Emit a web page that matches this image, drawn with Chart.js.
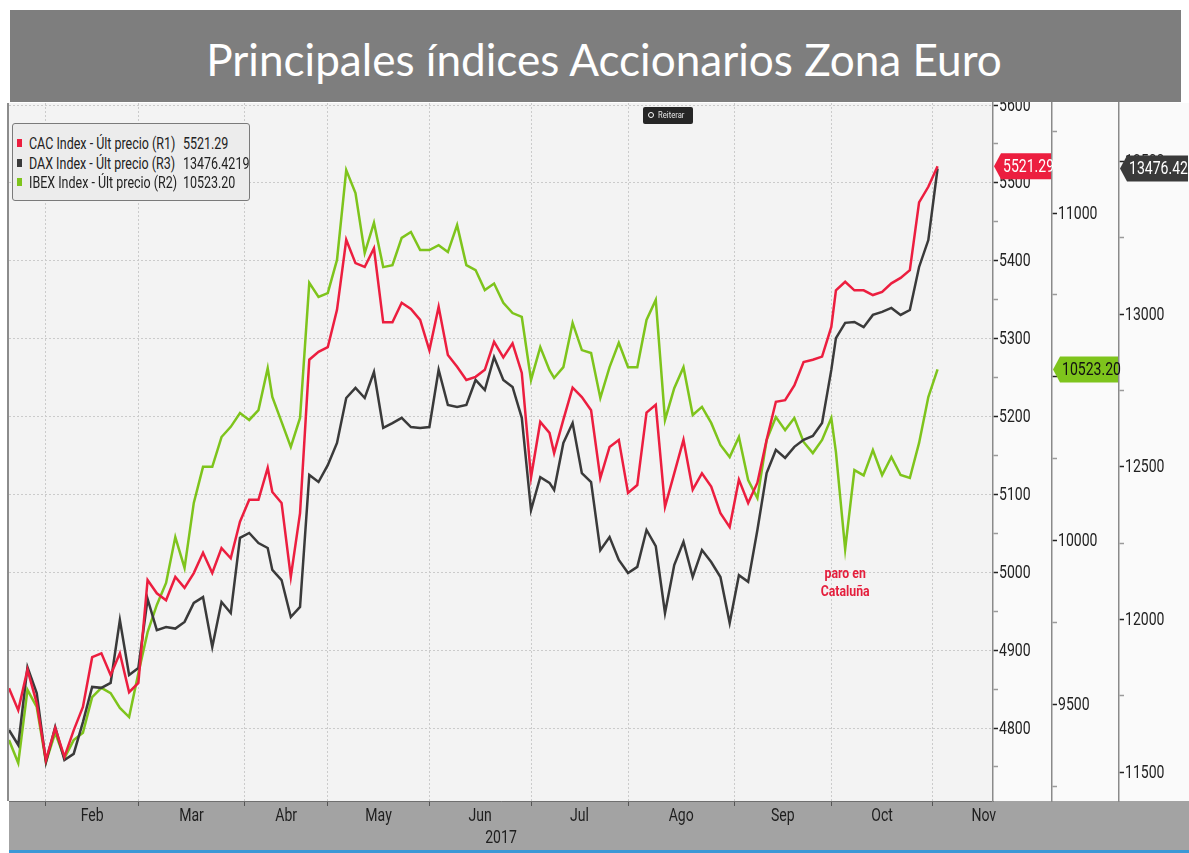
<!DOCTYPE html>
<html lang="es">
<head>
<meta charset="utf-8">
<title>Principales índices Accionarios Zona Euro</title>
<script src="https://cdn.jsdelivr.net/npm/chart.js@4.4.1/dist/chart.umd.min.js"></script>
<style>
  html, body { margin: 0; padding: 0; background: #ffffff; }
  #lienzo { position: relative; width: 1189px; height: 853px; overflow: hidden; }
  #grafico { position: absolute; left: 0; top: 0; }
  #titulo {
    position: absolute; left: 10px; top: 10px; width: 1171px; height: 92px;
    background: #7e7e7e; color: #ffffff; font-family: Lato, "Open Sans", sans-serif;
    text-align: center; line-height: 98px; white-space: nowrap; padding-left: 17px; box-sizing: border-box;
  }
  #leyenda {
    position: absolute; left: 12px; top: 123px; width: 238px; height: 78px; box-sizing: border-box;
    background: #ececec; border: 1px solid #7a7a7a; border-radius: 3px; padding-top: 10px;
    font: 16px Roboto, sans-serif; color: #222222;
  }
  .fila { position: relative; height: 19.5px; line-height: 19.5px; white-space: nowrap; }
  .fila i { position: absolute; left: 4px; top: 5px; width: 5px; height: 8px; }
  .fila span, .fila b { position: absolute; font-weight: normal; transform: scaleX(0.78); transform-origin: 0 50%; }
  .fila span { left: 16px; }
  .fila b { left: 170px; }
  #reiterar {
    position: absolute; left: 643px; top: 107px; width: 50px; height: 17px; background: #262626;
    border-radius: 2px; color: #e6e6e6; font: 9px Roboto, sans-serif;
    line-height: 17px; box-sizing: border-box; padding-left: 15px;
  }
  #reiterar span { display: inline-block; transform: scaleX(0.85); transform-origin: 0 50%; }
  #reiterar:before {
    content: ""; position: absolute; left: 5px; top: 5px; width: 4px; height: 4px;
    border: 1.5px solid #ffffff; border-radius: 50%;
  }
</style>
</head>
<body>
<div id="lienzo">
  <canvas id="grafico" width="1189" height="853"></canvas>
  <div id="titulo"></div>
  <div id="leyenda"></div>
  <div id="reiterar"><span>Reiterar</span></div>
</div>
<script>
// textos
const textoTitulo = 'Principales índices Accionarios Zona Euro';
const textoAnio = '2017';
const textoNota = ['paro en', 'Cataluña'];
const fechaNota = '2017-10-05';

// sesiones: días hábiles sin los festivos europeos
const festivos = ['2017-04-14', '2017-04-17', '2017-05-01'];
const meses = ['Feb', 'Mar', 'Abr', 'May', 'Jun', 'Jul', 'Ago', 'Sep', 'Oct', 'Nov'];

// marcas rotuladas de cada eje
const marcasCac = [4800, 4900, 5000, 5100, 5200, 5300, 5400, 5500, 5600];
const marcasIbex = [9500, 10000, 10500, 11000];
const marcasDax = [11500, 12000, 12500, 13000, 13500];

// fechas de las muestras leídas
const fechas = [
  '2017-01-20', '2017-01-24', '2017-01-26', '2017-01-30', '2017-02-01', '2017-02-03', '2017-02-07', '2017-02-09', '2017-02-13', '2017-02-15',
  '2017-02-17', '2017-02-21', '2017-02-23', '2017-02-27', '2017-03-01', '2017-03-03', '2017-03-07', '2017-03-09', '2017-03-13', '2017-03-15',
  '2017-03-17', '2017-03-21', '2017-03-23', '2017-03-27', '2017-03-29', '2017-03-31', '2017-04-04', '2017-04-06', '2017-04-10', '2017-04-11',
  '2017-04-13', '2017-04-19', '2017-04-21', '2017-04-25', '2017-04-27', '2017-05-02', '2017-05-04', '2017-05-08', '2017-05-10', '2017-05-12',
  '2017-05-16', '2017-05-18', '2017-05-22', '2017-05-24', '2017-05-26', '2017-05-30', '2017-06-01', '2017-06-05', '2017-06-07', '2017-06-09',
  '2017-06-13', '2017-06-15', '2017-06-19', '2017-06-21', '2017-06-23', '2017-06-27', '2017-06-29', '2017-07-03', '2017-07-05', '2017-07-07',
  '2017-07-10', '2017-07-12', '2017-07-14', '2017-07-18', '2017-07-20', '2017-07-24', '2017-07-26', '2017-07-28', '2017-08-01', '2017-08-03',
  '2017-08-07', '2017-08-09', '2017-08-11', '2017-08-15', '2017-08-17', '2017-08-21', '2017-08-23', '2017-08-25', '2017-08-29', '2017-08-31',
  '2017-09-04', '2017-09-06', '2017-09-08', '2017-09-12', '2017-09-14', '2017-09-18', '2017-09-20', '2017-09-22', '2017-09-26', '2017-09-28',
  '2017-10-02', '2017-10-03', '2017-10-05', '2017-10-09', '2017-10-11', '2017-10-13', '2017-10-17', '2017-10-19', '2017-10-23', '2017-10-25',
  '2017-10-27', '2017-10-31', '2017-11-02'
];

const cac = [
  4851, 4823, 4875, 4832, 4759, 4800, 4763, 4797, 4827, 4891,
  4896, 4868, 4896, 4846, 4858, 4990, 4973, 4964, 4994, 4980,
  4999, 5025, 4999, 5031, 5018, 5065, 5093, 5093, 5134, 5103,
  5089, 4994, 5076, 5273, 5283, 5289, 5337, 5427, 5397, 5392,
  5416, 5321, 5321, 5346, 5338, 5324, 5285, 5341, 5279, 5264,
  5247, 5251, 5260, 5296, 5276, 5294, 5256, 5122, 5193, 5179,
  5153, 5196, 5237, 5225, 5208, 5121, 5161, 5170, 5102, 5112,
  5205, 5215, 5084, 5127, 5170, 5106, 5127, 5110, 5076, 5058,
  5119, 5089, 5115, 5170, 5219, 5221, 5240, 5270, 5273, 5277,
  5315, 5362, 5373, 5362, 5362, 5356, 5360, 5371, 5378, 5388,
  5475, 5495, 5521.29
];

const dax = [
  11638, 11589, 11844, 11759, 11533, 11648, 11540, 11560, 11664, 11779,
  11776, 11792, 11998, 11818, 11841, 12067, 11965, 11975, 11970, 11992,
  12054, 12073, 11910, 12057, 12021, 12267, 12283, 12250, 12234, 12162,
  12129, 12008, 12041, 12473, 12450, 12505, 12578, 12725, 12758, 12725,
  12810, 12627, 12643, 12660, 12630, 12627, 12630, 12817, 12702, 12696,
  12702, 12784, 12751, 12859, 12784, 12761, 12660, 12358, 12466, 12447,
  12424, 12578, 12643, 12479, 12450, 12227, 12270, 12195, 12152, 12172,
  12293, 12240, 12021, 12178, 12254, 12139, 12227, 12188, 12139, 11988,
  12145, 12123, 12293, 12479, 12555, 12529, 12565, 12588, 12601, 12643,
  12817, 12921, 12971, 12974, 12957, 12997, 13007, 13020, 12997, 13013,
  13154, 13242, 13476.4219
];

const ibex = [
  9393, 9323, 9546, 9494, 9326, 9415, 9338, 9393, 9415, 9524,
  9552, 9536, 9491, 9463, 9597, 9722, 9805, 9872, 10012, 9918,
  10116, 10226, 10226, 10317, 10348, 10390, 10369, 10399, 10527, 10439,
  10363, 10287, 10375, 10787, 10744, 10756, 10857, 11131, 11061, 10878,
  10970, 10835, 10841, 10924, 10942, 10887, 10887, 10902, 10881, 10963,
  10841, 10826, 10765, 10785, 10726, 10695, 10683, 10491, 10591, 10521,
  10497, 10530, 10665, 10582, 10573, 10436, 10530, 10604, 10530, 10530,
  10674, 10735, 10369, 10466, 10530, 10384, 10409, 10360, 10293, 10256,
  10317, 10186, 10131, 10308, 10378, 10338, 10375, 10302, 10268, 10308,
  10375, 10271, 9975, 10216, 10200, 10277, 10201, 10256, 10201, 10192,
  10299, 10439, 10523.20
];

const FAMILIA = 'Roboto, sans-serif';

const series = [
  { nombre: 'CAC Index - Últ precio (R1)', datos: cac, color: '#ec1e3f', eje: 'yCac', dec: 2, tinta: '#ffffff' },
  { nombre: 'DAX Index - Últ precio (R3)', datos: dax, color: '#3a3a3a', eje: 'yDax', dec: 4, tinta: '#ffffff' },
  { nombre: 'IBEX Index - Últ precio (R2)', datos: ibex, color: '#7ec41c', eje: 'yIbex', dec: 2, tinta: '#111111' }
];
const ejes = [
  { id: 'yCac', marcas: marcasCac },
  { id: 'yIbex', marcas: marcasIbex },
  { id: 'yDax', marcas: marcasDax }
];

function calendario(desde, hasta) {
  const dias = [];
  const d = new Date(desde + 'T12:00:00Z');
  const fin = new Date(hasta + 'T12:00:00Z');
  while (d <= fin) {
    const s = d.toISOString().slice(0, 10);
    const wd = d.getUTCDay();
    if (wd !== 0 && wd !== 6 && festivos.indexOf(s) < 0) dias.push(s);
    d.setUTCDate(d.getUTCDate() + 1);
  }
  return dias;
}
const sesiones = calendario('2017-01-20', '2017-12-29');
const X_MAX = 213;

// inicio de cada mes (en sesiones) y centro para la etiqueta
const inicios = [];
for (let m = 2; m <= 12; m++) {
  const mm = (m < 10 ? '0' : '') + m;
  inicios.push(sesiones.findIndex(s => s.slice(5, 7) === mm));
}
const marcasX = [];
meses.forEach((nombre, i) => {
  marcasX.push({ v: inicios[i], limite: true, texto: '' });
  marcasX.push({ v: (inicios[i] + inicios[i + 1]) / 2, limite: false, texto: nombre });
});
const marcasVisibles = marcasX.filter(m => m.v <= X_MAX);
function marca(v) { return marcasVisibles.find(m => Math.abs(m.v - v) < 1e-6); }
function esLimite(c) { const m = c.tick && marca(c.tick.value); return !!(m && m.limite); }

// título ajustado al ancho
(function () {
  const t = document.getElementById('titulo');
  const c = document.createElement('canvas').getContext('2d');
  c.font = '100px Lato';
  const w = c.measureText(textoTitulo).width;
  t.style.fontSize = (100 * 798 / w).toFixed(1) + 'px';
  t.textContent = textoTitulo;
})();

// leyenda
(function () {
  const ley = document.getElementById('leyenda');
  series.forEach(s => {
    const f = document.createElement('div');
    f.className = 'fila';
    f.innerHTML = '<i style="background:' + s.color + '"></i><span>' + s.nombre + '</span><b>' +
      s.datos[s.datos.length - 1].toFixed(s.dec) + '</b>';
    ley.appendChild(f);
  });
})();

// texto estrecho: la fuente se comprime en horizontal
function estrecho(ctx, texto, x, y, tam, escala, peso, alinear, color) {
  ctx.save();
  ctx.font = (peso ? peso + ' ' : '') + tam + 'px ' + FAMILIA;
  ctx.fillStyle = color;
  ctx.textBaseline = 'middle';
  ctx.textAlign = alinear || 'left';
  ctx.translate(x, y);
  ctx.scale(escala, 1);
  ctx.fillText(texto, 0, 0);
  ctx.restore();
}

const fondos = {
  id: 'fondos',
  beforeDraw(chart) {
    const { ctx, chartArea: a, width } = chart;
    ctx.save();
    ctx.fillStyle = '#fafafa';
    ctx.fillRect(a.right, a.top, width - a.right, a.bottom - a.top);
    ctx.fillStyle = '#f3f3f3';
    ctx.fillRect(a.left, a.top, a.right - a.left, a.bottom - a.top);
    ctx.fillStyle = '#a3a3a3';
    ctx.fillRect(a.left, a.bottom, width - a.left, 49);
    ctx.fillStyle = '#3c98d6';
    ctx.fillRect(a.left, a.bottom + 49, width - a.left, 3);
    ctx.fillStyle = '#8c8c8c';
    ctx.fillRect(a.left - 2, a.top, 2, a.bottom - a.top);
    ctx.restore();
  }
};

const rotulos = {
  id: 'rotulos',
  afterDatasetsDraw(chart) {
    const ctx = chart.ctx;
    // nota sobre la caída del IBEX
    const i = fechas.indexOf(fechaNota);
    const xn = chart.scales.x.getPixelForValue(sesiones.indexOf(fechaNota));
    const yn = chart.scales.yIbex.getPixelForValue(ibex[i]);
    textoNota.forEach((t, j) => estrecho(ctx, t, xn, yn + 25 + j * 18, 15, 0.82, 'bold', 'center', '#e41e3c'));
  },
  afterDraw(chart) {
    const ctx = chart.ctx;
    // rótulos de los ejes verticales
    ejes.forEach(e => {
      const sc = chart.scales[e.id];
      sc.ticks.forEach(t => {
        if (e.marcas.indexOf(t.value) < 0) return;
        estrecho(ctx, String(t.value), sc.left + 6, sc.getPixelForValue(t.value) + 1, 18, 0.78, '', 'left', '#222222');
      });
    });
    // meses y año
    const sx = chart.scales.x;
    sx.ticks.forEach(t => {
      const m = marca(t.value);
      if (m && !m.limite) estrecho(ctx, m.texto, sx.getPixelForValue(t.value), sx.top + 15, 18, 0.78, '', 'center', '#1e1e1e');
    });
    estrecho(ctx, textoAnio, (sx.left + sx.right) / 2, sx.top + 37, 18, 0.78, '', 'center', '#1e1e1e');
    // banderas con el último valor
    series.forEach(s => {
      const esc = chart.scales[s.eje];
      const v = s.datos[s.datos.length - 1];
      const y = esc.getPixelForValue(v);
      const x0 = esc.left + 1, x1 = esc.right - 1, h = 26;
      ctx.save();
      ctx.beginPath();
      ctx.moveTo(x0, y);
      ctx.lineTo(x0 + 7, y - h / 2);
      ctx.lineTo(x1, y - h / 2);
      ctx.lineTo(x1, y + h / 2);
      ctx.lineTo(x0 + 7, y + h / 2);
      ctx.closePath();
      ctx.fillStyle = s.color;
      ctx.fill();
      ctx.restore();
      estrecho(ctx, v.toFixed(s.dec), x0 + 9, y + 1, 18, 0.78, '', 'left', s.tinta);
    });
  }
};

function ejeY(peso, ancho, min, max, marcas, sobreArea) {
  const mitad = (marcas[1] - marcas[0]) / 2;
  return {
    type: 'linear', position: 'right', weight: peso, min: min, max: max,
    afterFit: sc => { sc.width = ancho; },
    afterBuildTicks: sc => {
      const lista = [];
      for (let v = marcas[0] - mitad; v <= marcas[marcas.length - 1] + mitad; v += mitad) {
        if (v >= sc.min && v <= sc.max) lista.push({ value: v });
      }
      sc.ticks = lista;
    },
    grid: {
      drawOnChartArea: sobreArea,
      color: c => (c.tick && marcas.indexOf(c.tick.value) >= 0) ? '#cbcbcb' : 'rgba(0,0,0,0)',
      tickColor: c => (c.tick && marcas.indexOf(c.tick.value) >= 0) ? '#222222' : '#9a9a9a',
      tickLength: 5, tickWidth: 1.5, lineWidth: 1
    },
    border: { display: true, color: '#8a8a8a', width: 1.5, dash: [2, 2] },
    ticks: { display: false }
  };
}

new Chart(document.getElementById('grafico'), {
  type: 'line',
  data: {
    datasets: series.map(s => ({
      label: s.nombre,
      data: s.datos.map((v, i) => ({ x: sesiones.indexOf(fechas[i]), y: v })),
      borderColor: s.color,
      borderWidth: 2.5,
      pointRadius: 0,
      tension: 0,
      fill: false,
      yAxisID: s.eje
    }))
  },
  options: {
    responsive: false,
    animation: false,
    layout: { padding: { left: 9, top: 103, right: 0, bottom: 3 } },
    plugins: { legend: { display: false }, tooltip: { enabled: false } },
    scales: {
      x: {
        type: 'linear', min: 0, max: X_MAX,
        afterBuildTicks: sc => { sc.ticks = marcasVisibles.map(m => ({ value: m.v })); },
        afterFit: sc => { sc.height = 49; },
        grid: {
          color: c => esLimite(c) ? '#cbcbcb' : 'rgba(0,0,0,0)',
          tickColor: c => esLimite(c) ? '#555555' : 'rgba(0,0,0,0)',
          tickLength: 5, lineWidth: 1
        },
        border: { display: true, color: '#6f6f6f', width: 1, dash: [2, 2] },
        ticks: { display: false, autoSkip: false }
      },
      yCac: ejeY(0, 59, 4706.3, 5602.6, marcasCac, true),
      yIbex: ejeY(1, 67, 9207.2, 11335.4, marcasIbex, false),
      yDax: ejeY(2, 70, 11405.6, 13690.8, marcasDax, false)
    }
  },
  plugins: [fondos, rotulos]
});
</script>
</body>
</html>
